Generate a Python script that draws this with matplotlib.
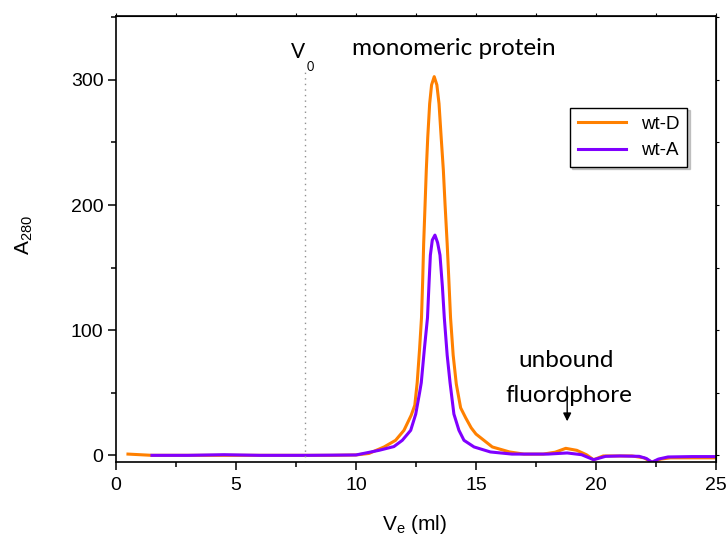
import matplotlib
matplotlib.use("Agg")
import matplotlib.pyplot as plt
from matplotlib.ticker import MultipleLocator

plt.rcParams['font.family'] = ['Liberation Sans', 'DejaVu Sans']
plt.rcParams['mathtext.fontset'] = 'custom'
plt.rcParams['mathtext.rm'] = 'Liberation Sans'
plt.rcParams['mathtext.it'] = 'Liberation Sans:italic'

# elution volume (ml) and absorbance
wtD_x = [0.5, 1.0, 1.5, 3, 5, 7, 9, 10, 10.54, 11.17, 11.65, 12.0, 12.3, 12.45,
         12.55, 12.65, 12.73, 12.78, 12.82, 12.88, 12.93, 12.99, 13.07, 13.15,
         13.26, 13.37, 13.46, 13.55, 13.64, 13.71, 13.8, 13.87, 13.94, 14.05,
         14.18, 14.36, 14.57, 14.8, 15.0, 15.68, 16.4, 17, 17.8, 18.3,
         18.74, 19.2, 19.6, 19.9, 20.3, 20.8, 21.5, 22.0, 22.33, 22.7, 23.1, 24, 25]
wtD_y = [1, 0.5, 0, 0, 0, 0, 0, 0.3, 1.5, 6.7, 12, 20, 32, 40,
         58, 85, 110, 140, 169, 201, 228, 254, 281, 296,
         302.6, 296, 281, 254, 228, 201, 169, 140, 110, 80,
         57, 38, 30, 22, 17, 6.7, 2.7, 1, 1, 2.5,
         5.6, 4, 0.5, -3.5, -0.5, -0.5, -0.5, -2, -5.5, -3, -2, -2, -2]

wtA_x = [1.5, 3, 4.5, 6, 8, 10, 10.96, 11.58, 11.93, 12.28, 12.49, 12.65, 12.72,
         12.85, 12.98, 13.05, 13.1, 13.18, 13.29, 13.4, 13.5, 13.6, 13.68, 13.8,
         13.92, 14.08, 14.29, 14.5, 14.92, 15.6, 16.5, 18, 18.8, 19.4, 19.9, 20.4,
         21, 21.8, 22.1, 22.33, 22.6, 23, 24, 25]
wtA_y = [0, 0, 0.5, 0, 0, 0.3, 4, 7, 12, 20, 33, 50, 58,
         85, 110, 140, 160, 172, 176, 170, 160, 135, 110, 80,
         58, 33, 20, 12, 6.7, 2.7, 1, 1, 1.9, 0.5, -3.5, -0.8,
         -0.5, -0.8, -2.5, -5.5, -3, -1.3, -1, -1]

v0 = 7.86

fig = plt.figure(figsize=(7.28, 5.43), dpi=100)
ax = fig.add_axes([0.1593, 0.149, 0.8242, 0.8214])

ax.plot(wtD_x, wtD_y, color='#FF8000', lw=2.2, label='wt-D')
ax.plot(wtA_x, wtA_y, color='#8000FF', lw=2.2, label='wt-A')
ax.plot([v0, v0], [-10, 306], color='#909090', lw=1, ls=(0, (1, 3)))

ax.set_xlim(0, 25)
ax.set_ylim(-5.4, 351)
ax.xaxis.set_major_locator(MultipleLocator(5))
ax.xaxis.set_minor_locator(MultipleLocator(2.5))
ax.yaxis.set_major_locator(MultipleLocator(100))
ax.yaxis.set_minor_locator(MultipleLocator(50))
ax.tick_params(which='major', direction='out', length=6, width=1.1, labelsize=14)
ax.tick_params(which='minor', direction='out', length=3.5, width=1.1)
ax.tick_params(axis='x', which='major', pad=5)
ax.tick_params(axis='y', which='major', pad=3)
for s in ax.spines.values():
    s.set_linewidth(1.2)

top = ax.secondary_xaxis('top')
top.xaxis.set_major_locator(MultipleLocator(2.5))
top.tick_params(direction='out', length=2, width=0.8, labeltop=False)
right = ax.secondary_yaxis('right')
right.yaxis.set_major_locator(MultipleLocator(50))
right.tick_params(direction='out', length=2, width=0.8, labelright=False)

ax.set_xlabel(r'V$_\mathrm{e}$ (ml)', fontsize=15)
ax.set_ylabel(r'A$_\mathrm{280}$', fontsize=15)
ax.xaxis.set_label_coords(0.498, -0.115)
ax.yaxis.set_label_coords(-0.135, 0.51)

ax.text(7.58, 322, 'V', fontsize=15, family='Lato', ha='center', va='center')
ax.text(8.1, 310, '0', fontsize=9, family='Lato', ha='center', va='center')
ax.text(14.08, 325, 'monomeric protein', fontsize=17.5, family='Lato',
        ha='center', va='center')
ax.text(18.75, 76, 'unbound', fontsize=17.5, family='Lato', ha='center', va='center')
ax.text(18.85, 48, 'fluorophore', fontsize=17.5, family='Lato', ha='center', va='center')
ax.annotate('', xy=(18.8, 25), xytext=(18.8, 57),
            arrowprops=dict(arrowstyle='-|>', color='black', lw=1, mutation_scale=12))

leg = ax.legend(loc='upper left', bbox_to_anchor=(0.757, 0.794), borderaxespad=0,
                fontsize=13.5, fancybox=False, edgecolor='black', handlelength=2.6,
                framealpha=1, shadow={'ox': 1.5, 'oy': -1.5, 'color': '0.6'})
leg.get_frame().set_linewidth(1)

fig.savefig('out.png', dpi=100)
